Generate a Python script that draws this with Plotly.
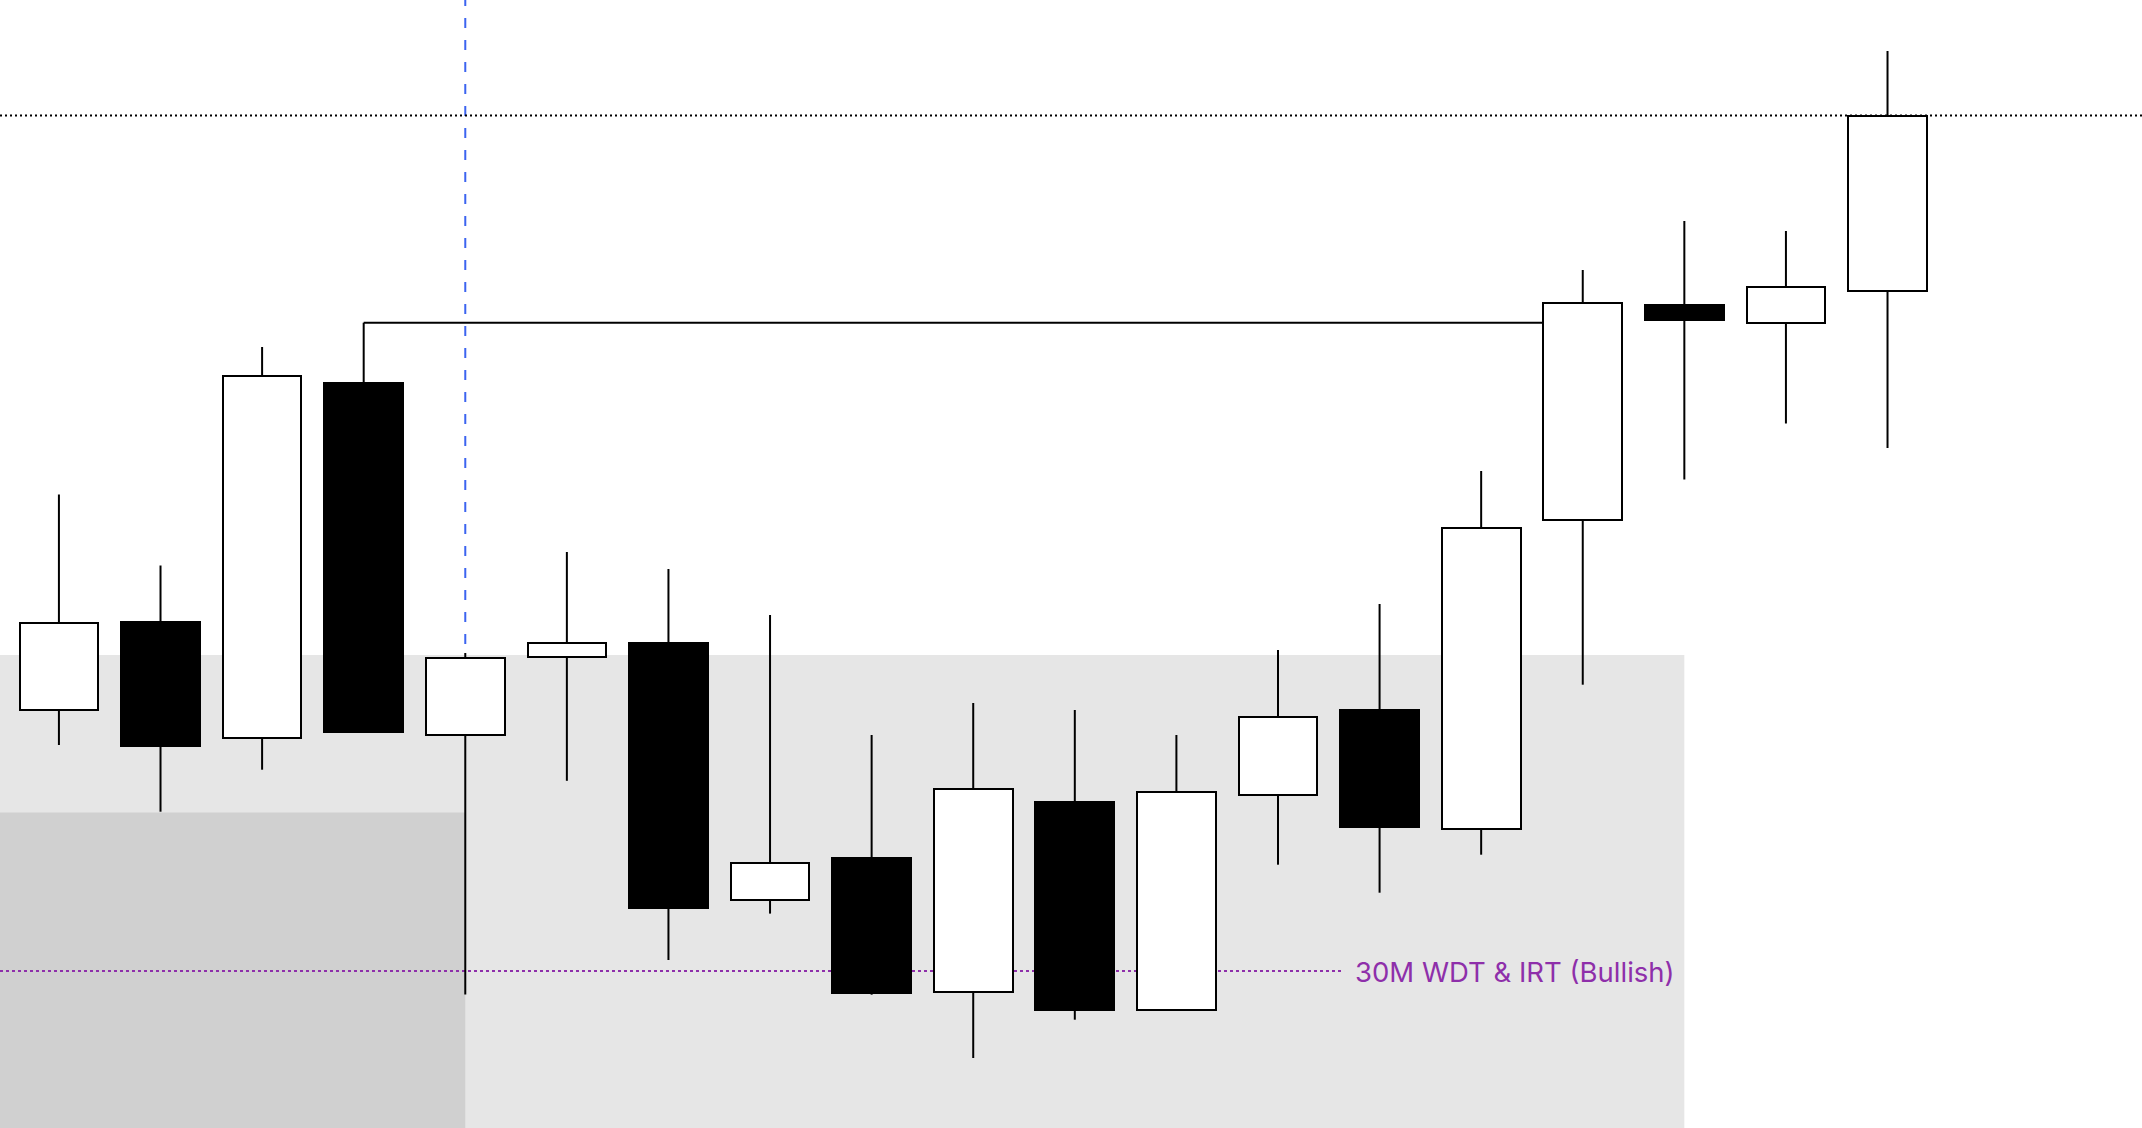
import plotly.graph_objects as go

# ---- data (price units, arbitrary scale) ----
opens  = [418, 506, 390, 745, 393, 471, 485, 228, 270, 136, 326, 118.5, 333, 418, 299, 608, 823, 805, 837]
highs  = [633.5, 562.5, 781, 805.3, 475, 576, 559, 513, 393, 425, 418, 393, 478, 524, 657, 858, 907, 897, 1077]
lows   = [383, 316.3, 358.3, 396.3, 133.4, 347.2, 168, 214.4, 133.3, 70, 108.3, 118.5, 263.3, 235.3, 273.3, 443.3, 648.5, 704.5, 680]
closes = [505, 382.3, 752.4, 396.3, 470, 485, 220.2, 265.1, 135.3, 339.2, 118.4, 336.3, 411, 301.3, 600.3, 825.3, 808, 841, 1012.3]

# levels / zones
top_level = 1012.5           # dotted black level
swing_high_idx = 3           # candle whose high is extended
swing_end_idx = 15           # candle where the extension ends
zone_top = 473               # light grey zone top
zone_end_idx = 16
deep_zone_top = 315.5        # darker grey zone top
deep_zone_end_idx = 4
wdt_level = 157              # purple dotted level
wdt_label = "30M WDT & IRT (Bullish)"
wdt_end_x = 12.65
vline_idx = 4

n = len(opens)
xs = list(range(n))
body_w = 0.775

X_MIN, X_MAX = -0.58, 20.505
Y_MIN, Y_MAX = 0, 1128

fig = go.Figure()

# wicks as two segments (above and below body) so bodies aren't crossed
wx, wy = [], []
for i in xs:
    top = max(opens[i], closes[i])
    bot = min(opens[i], closes[i])
    if highs[i] > top:
        wx += [i, i, None]
        wy += [top, highs[i], None]
    if lows[i] < bot:
        wx += [i, i, None]
        wy += [bot, lows[i], None]
fig.add_trace(go.Scatter(x=wx, y=wy, mode="lines",
                         line=dict(color="black", width=2),
                         hoverinfo="skip", showlegend=False))

# bodies
bases = [min(o, c) for o, c in zip(opens, closes)]
heights = [abs(c - o) for o, c in zip(opens, closes)]
colors = ["white" if c >= o else "black" for o, c in zip(opens, closes)]
fig.add_trace(go.Bar(x=xs, y=heights, base=bases, width=body_w,
                     marker=dict(color=colors, line=dict(color="black", width=2)),
                     hoverinfo="skip", showlegend=False))

shapes = [
    dict(type="rect", xref="x", yref="y", x0=X_MIN, x1=zone_end_idx, y0=Y_MIN, y1=zone_top,
         fillcolor="#e6e6e6", line=dict(width=0), layer="below"),
    dict(type="rect", xref="x", yref="y", x0=X_MIN, x1=deep_zone_end_idx, y0=Y_MIN, y1=deep_zone_top,
         fillcolor="#d0d0d0", line=dict(width=0), layer="below"),
    dict(type="line", xref="x", yref="y", x0=X_MIN, x1=wdt_end_x, y0=wdt_level, y1=wdt_level,
         line=dict(color="#8e2faa", width=2, dash="3px,3px"), layer="below"),
    dict(type="line", xref="x", yref="paper", x0=vline_idx, x1=vline_idx, y0=0, y1=1,
         line=dict(color="#3c64f0", width=2, dash="10px,12px"), layer="below"),
    dict(type="line", xref="paper", yref="y", x0=0, x1=1, y0=top_level, y1=top_level,
         line=dict(color="black", width=2, dash="2px,3px"), layer="below"),
    dict(type="line", xref="x", yref="y", x0=swing_high_idx, x1=swing_end_idx - body_w / 2,
         y0=highs[swing_high_idx], y1=highs[swing_high_idx],
         line=dict(color="black", width=2), layer="above"),
]

fig.update_layout(
    width=2142, height=1128,
    margin=dict(l=0, r=0, t=0, b=0),
    paper_bgcolor="white", plot_bgcolor="white",
    xaxis=dict(range=[X_MIN, X_MAX], visible=False, showgrid=False, zeroline=False),
    yaxis=dict(range=[Y_MIN, Y_MAX], visible=False, showgrid=False, zeroline=False),
    shapes=shapes,
    bargap=0,
    annotations=[dict(x=wdt_end_x, y=wdt_level, xref="x", yref="y",
                      text=wdt_label, showarrow=False, xanchor="left", yanchor="middle",
                      xshift=9, yshift=-1,
                      font=dict(family="Inter, Roboto, sans-serif", size=27.5, color="#8e2faa"))],
)

fig.write_html("out.html", config={"displayModeBar": False},
               post_script="document.body.style.margin='0';document.body.style.overflow='hidden';")
